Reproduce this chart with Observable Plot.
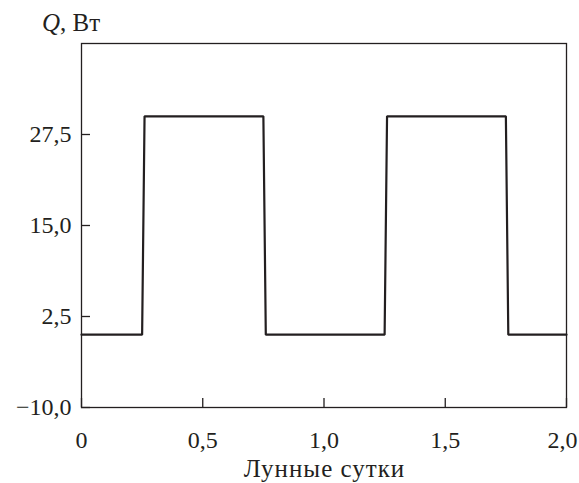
<!DOCTYPE html>
<html>
<head>
<meta charset="utf-8">
<script src="https://cdn.jsdelivr.net/npm/d3@7"></script>
<script src="https://cdn.jsdelivr.net/npm/@observablehq/plot@0.6"></script>
<style>
  html, body { margin: 0; padding: 0; background: #fff; }
</style>
</head>
<body>
<div id="chart"></div>
<script>
// Heat load Q (W) over two lunar days
const lunarDays = [0, 0.25, 0.26, 0.75, 0.76, 1.25, 1.26, 1.75, 1.76, 2.0];
const heatQ     = [0, 0,    30,   30,   0,    0,    30,   30,   0,    0];

const xTicks = [0, 0.5, 1.0, 1.5, 2.0];
const yTicks = [-10, 2.5, 15, 27.5];

const series = lunarDays.map((t, i) => ({t, q: heatQ[i]}));

const fmtX = d => d === 0 ? "0" : d.toFixed(1).replace(".", ",");
const fmtY = d => d.toFixed(1).replace(".", ",").replace("-", "\u2212");

const ink = "#231f20";
const W = 579, H = 483;

const chart = Plot.plot({
  width: W,
  height: H,
  marginLeft: 81,
  marginRight: 13,
  marginTop: 43,
  marginBottom: 76,
  style: {fontFamily: "'Liberation Serif', 'DejaVu Serif', serif", fontSize: "24px", color: ink, background: "#fff"},
  x: {domain: [0, 2]},
  y: {domain: [-10, 40]},
  marks: [
    Plot.frame({stroke: ink, strokeWidth: 1.3}),
    // inward tick marks
    Plot.axisX(xTicks, {tickSize: 9, dy: -9, tickFormat: () => "", stroke: ink, strokeWidth: 1.3, label: null}),
    Plot.axisY(yTicks, {tickSize: 9, dx: 9, tickFormat: () => "", stroke: ink, strokeWidth: 1.3, label: null}),
    // tick labels (the last one nudged inward so it stays on the page)
    Plot.axisX(xTicks.slice(0, -1), {tickSize: 0, tickPadding: 23, tickFormat: fmtX, fill: ink, label: null}),
    Plot.axisX(xTicks.slice(-1), {tickSize: 0, tickPadding: 23, dx: -4, tickFormat: fmtX, fill: ink, label: null}),
    Plot.axisY(yTicks, {tickSize: 0, tickPadding: 10, tickFormat: fmtY, fill: ink, label: null}),
    Plot.line(series, {x: "t", y: "q", stroke: ink, strokeWidth: 2.2, strokeLinejoin: "miter"})
  ]
});

const svg = d3.select(chart);
svg.append("text")
  .attr("x", 42).attr("y", 31)
  .attr("text-anchor", "start")
  .attr("font-size", 25)
  .attr("fill", ink)
  .call(t => {
    t.append("tspan").attr("font-style", "italic").text("Q");
    t.append("tspan").text(", Вт");
  });
svg.append("text")
  .attr("x", 81 + (W - 81 - 13) / 2 + 1).attr("y", 477)
  .attr("text-anchor", "middle")
  .attr("font-size", 25)
  .attr("letter-spacing", 1)
  .attr("fill", ink)
  .text("Лунные сутки");

document.getElementById("chart").appendChild(chart);
</script>
</body>
</html>
